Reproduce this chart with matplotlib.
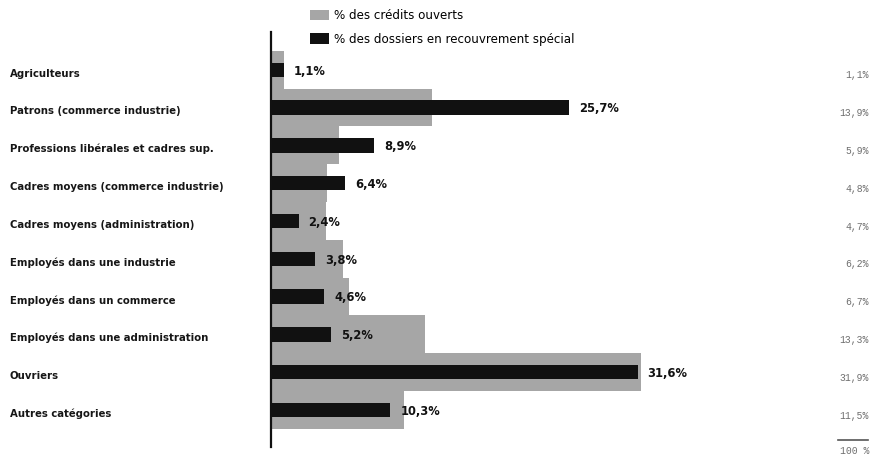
import matplotlib
matplotlib.use("Agg")
import matplotlib.pyplot as plt
import matplotlib.transforms as mtransforms
from matplotlib.lines import Line2D

# Data
categories = [
    "Agriculteurs",
    "Patrons (commerce industrie)",
    "Professions libérales et cadres sup.",
    "Cadres moyens (commerce industrie)",
    "Cadres moyens (administration)",
    "Employés dans une industrie",
    "Employés dans un commerce",
    "Employés dans une administration",
    "Ouvriers",
    "Autres catégories",
]
credits_ouverts = [1.1, 13.9, 5.9, 4.8, 4.7, 6.2, 6.7, 13.3, 31.9, 11.5]
dossiers_recouvrement = [1.1, 25.7, 8.9, 6.4, 2.4, 3.8, 4.6, 5.2, 31.6, 10.3]
total_label = "100 %"


def fr(v):
    return f"{v:.1f}".replace(".", ",") + "%"


W, H = 873, 463
fig = plt.figure(figsize=(W / 100, H / 100), dpi=100)
fig.patch.set_facecolor("white")

# axes: vertical axis at x=271px, from y=32px to y=447px
ax = fig.add_axes([271 / W, (H - 447) / H, (W - 271) / W, (447 - 32) / H])
ax.set_facecolor("none")

y = list(range(len(categories)))
grey_bars = ax.barh(y, credits_ouverts, height=1.0, color="#a6a6a6",
                    edgecolor="none", zorder=1)
black_bars = ax.barh(y, dossiers_recouvrement, height=0.38, color="#111111",
                     edgecolor="none", zorder=2)

ax.set_xlim(0, (W - 271) / 11.6)
ax.set_ylim(9.98, -1.0)

for s in ["top", "right", "bottom"]:
    ax.spines[s].set_visible(False)
ax.spines["left"].set_linewidth(1.6)
ax.spines["left"].set_color("#111111")
ax.set_xticks([])
ax.set_yticks([])

# value labels for black bars
for i, v in enumerate(dossiers_recouvrement):
    ax.annotate(fr(v), (v, i), xytext=(7, -1), textcoords="offset points",
                ha="left", va="center", fontsize=8.3, fontweight="bold",
                color="#111111")

# category labels on the far left
trans_left = mtransforms.blended_transform_factory(fig.transFigure, ax.transData)
for i, c in enumerate(categories):
    ax.text(10 / W, i + 0.1, c, transform=trans_left, ha="left", va="center",
            fontsize=7.3, fontweight="bold", color="#161616")

# right column: % of credits
for i, v in enumerate(credits_ouverts):
    ax.text(869 / W, i + 0.15, fr(v), transform=trans_left, ha="right",
            va="center", fontsize=7, family="Liberation Mono", color="#6f6f6f")
fig.text(869 / W, (H - 451) / H, total_label, ha="right", va="center",
         fontsize=7, family="Liberation Mono", color="#6f6f6f")
fig.add_artist(Line2D([838 / W, 868 / W], [(H - 440) / H] * 2,
                      transform=fig.transFigure, color="#555555", lw=1.2))

# legend
ax.legend([grey_bars, black_bars],
          ["% des crédits ouverts", "% des dossiers en recouvrement spécial"],
          loc="upper left", bbox_to_anchor=(310 / W, (H - 9) / H),
          bbox_transform=fig.transFigure, frameon=False, fontsize=8.6,
          handlelength=1.6, handleheight=1.0, handletextpad=0.4,
          labelspacing=0.9, borderaxespad=0, borderpad=0)

fig.savefig("out.png", dpi=100, facecolor="white")
